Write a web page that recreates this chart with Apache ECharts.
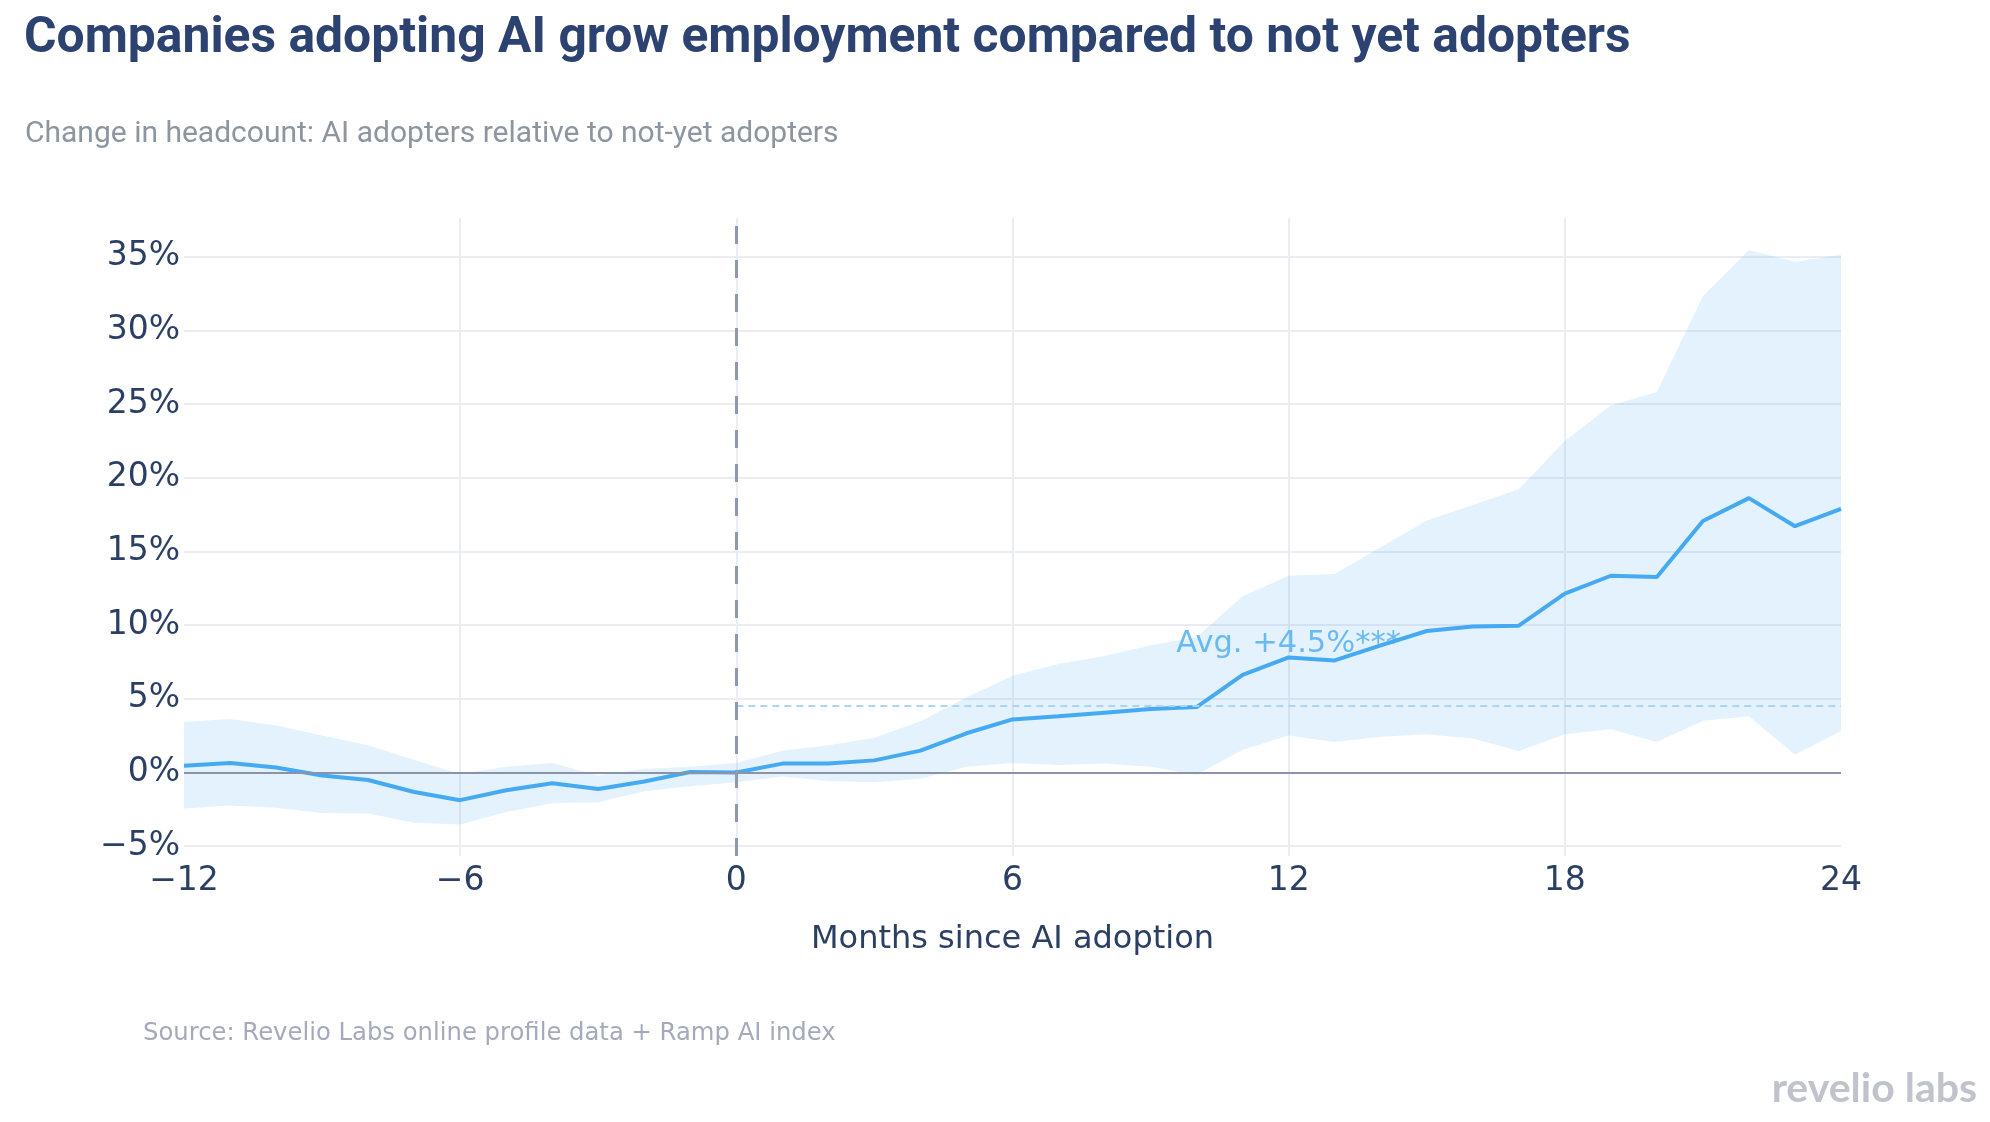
<!DOCTYPE html>
<html>
<head>
<meta charset="utf-8">
<title>AI adopters headcount</title>
<script src="https://cdn.jsdelivr.net/npm/echarts@6/dist/echarts.min.js"></script>
<style>
	html, body { margin: 0; padding: 0; background: #fff; }
	#lineEchart { width: 1990px; height: 1122px; }
</style>
</head>
<body>
<div id="lineEchart"></div>
<script>
// months since adoption
var months = [ -12, -11, -10, -9, -8, -7, -6, -5, -4, -3, -2, -1, 0,
	1, 2, 3, 4, 5, 6, 7, 8, 9, 10, 11, 12, 13, 14, 15, 16, 17, 18, 19, 20, 21, 22, 23, 24 ];
// estimated effect (%)
var effect = [ 0.45, 0.64, 0.33, -0.21, -0.51, -1.33, -1.88, -1.21, -0.73, -1.12, -0.61, 0.03, 0.0,
	0.60, 0.61, 0.82, 1.48, 2.66, 3.60, 3.81, 4.06, 4.30, 4.44, 6.63, 7.81, 7.60, 8.63, 9.60, 9.90, 9.96,
	12.14, 13.35, 13.26, 17.07, 18.62, 16.71, 17.89 ];
// confidence band
var ciUpper = [ 3.42, 3.63, 3.18, 2.51, 1.85, 0.85, -0.10, 0.39, 0.64, -0.21, 0.24, 0.39, 0.64,
	1.48, 1.85, 2.36, 3.48, 5.09, 6.57, 7.36, 7.90, 8.63, 9.17, 11.96, 13.35, 13.47, 15.29, 17.10, 18.16, 19.22,
	22.49, 24.91, 25.82, 32.33, 35.45, 34.66, 35.14 ];
var ciLower = [ -2.45, -2.24, -2.39, -2.75, -2.78, -3.42, -3.54, -2.69, -2.09, -2.03, -1.27, -0.94, -0.67,
	-0.27, -0.58, -0.67, -0.42, 0.39, 0.64, 0.51, 0.61, 0.39, -0.15, 1.54, 2.51, 2.06, 2.42, 2.60, 2.30, 1.45,
	2.60, 2.94, 2.06, 3.51, 3.81, 1.21, 2.82 ];
var avgEffect = 4.5;
var yTicks = [ -5, 0, 5, 10, 15, 20, 25, 30, 35 ];

var navy = '#2b3f65';
var blue = '#45aaf2';
var tickFont = 'DejaVu Sans';

function minus(v) {
	return v < 0 ? '\u2212' + Math.abs(v) : String(v);
}

var myChart = echarts.init(document.getElementById('lineEchart'));

var lineData = [];
for (var i = 0; i < months.length; i++) {
	lineData.push([ months[i], effect[i] ]);
}

// band polygon: upper edge left to right, lower edge back
function renderBand(params, api) {
	if (params.dataIndex !== 0) return;
	var pts = [];
	for (var i = 0; i < months.length; i++) {
		pts.push(api.coord([ months[i], ciUpper[i] ]));
	}
	for (var j = months.length - 1; j >= 0; j--) {
		pts.push(api.coord([ months[j], ciLower[j] ]));
	}
	return {
		type : 'polygon',
		shape : { points : pts },
		style : { fill : 'rgba(69,170,242,0.15)' }
	};
}

var option = {
	animation : false,
	backgroundColor : '#fff',
	title : [ {
		text : 'Companies adopting AI grow employment compared to not yet adopters',
		left : 24,
		top : 15,
		padding : 0,
		textStyle : { fontFamily : 'Roboto', fontWeight : 'bold', fontSize : 49.8, color : '#2c4270' }
	}, {
		text : 'Change in headcount: AI adopters relative to not-yet adopters',
		left : 25,
		top : 119,
		padding : 0,
		textStyle : { fontFamily : 'Roboto', fontWeight : 'normal', fontSize : 30, color : '#8d959e' }
	} ],
	grid : {
		left : 184,
		top : 218,
		width : 1657,
		height : 638,
		containLabel : false,
		outerBoundsMode : 'none'
	},
	xAxis : {
		type : 'value',
		min : -12,
		max : 24,
		interval : 6,
		name : 'Months since AI adoption',
		nameLocation : 'middle',
		nameGap : 68,
		nameTextStyle : { fontFamily : tickFont, fontSize : 32, color : navy },
		axisLine : { show : false },
		axisTick : { show : false },
		axisLabel : { formatter : minus, fontFamily : tickFont, fontSize : 33, color : navy, margin : 9 },
		splitLine : { show : true, showMinLine : false, showMaxLine : false, lineStyle : { color : '#ebedf2', width : 2 } }
	},
	yAxis : {
		type : 'value',
		min : -5.67,
		max : 37.63,
		axisLine : { show : false },
		axisTick : { show : false, customValues : yTicks },
		axisLabel : {
			customValues : yTicks,
			formatter : function(v) { return minus(v) + '%'; },
			fontFamily : tickFont, fontSize : 33, color : navy, margin : 4,
			padding : [ 4, 0, 0, 0 ]
		},
		splitLine : { show : true, lineStyle : { color : '#ebedf2', width : 2 } }
	},
	graphic : [ {
		type : 'text',
		x : 143,
		y : 1034,
		style : { text : 'Source: Revelio Labs online profile data + Ramp AI index', font : '24.3px "DejaVu Sans"',
			fill : '#a4aabb', textAlign : 'left', textVerticalAlign : 'middle' }
	}, {
		type : 'text',
		x : 1977,
		y : 1089,
		style : { text : 'revelio labs', font : 'bold 41px Lato', fill : '#c0c3cb',
			textAlign : 'right', textVerticalAlign : 'middle' }
	} ],
	series : [ {
		// confidence band
		type : 'custom',
		renderItem : renderBand,
		data : [ 0 ],
		silent : true,
		z : 1
	}, {
		// reference lines
		type : 'line',
		data : [],
		silent : true,
		z : 2,
		markLine : {
			silent : true,
			symbol : [ 'none', 'none' ],
			label : { show : false },
			data : [ {
				yAxis : 0,
				lineStyle : { color : '#8a93a7', width : 2, type : 'solid' }
			}, [ {
				coord : [ 0, avgEffect ],
				lineStyle : { color : '#aad5f6', width : 2, type : [ 7, 5 ] }
			}, {
				coord : [ 24, avgEffect ]
			} ], {
				xAxis : 0,
				lineStyle : { color : '#8f99ad', width : 3, type : [ 18, 16 ] }
			} ]
		}
	}, {
		type : 'line',
		data : lineData,
		symbol : 'none',
		z : 3,
		lineStyle : { color : blue, width : 4 },
		itemStyle : { color : blue }
	}, {
		// annotation
		type : 'scatter',
		data : [ [ 12, 8.7 ] ],
		symbolSize : 0,
		silent : true,
		z : 4,
		label : {
			show : true,
			position : 'inside',
			formatter : function() { return 'Avg. +' + avgEffect + '%***'; },
			fontFamily : tickFont,
			fontSize : 30.5,
			color : '#4aabf0'
		}
	} ]
};

myChart.setOption(option);
</script>
</body>
</html>
